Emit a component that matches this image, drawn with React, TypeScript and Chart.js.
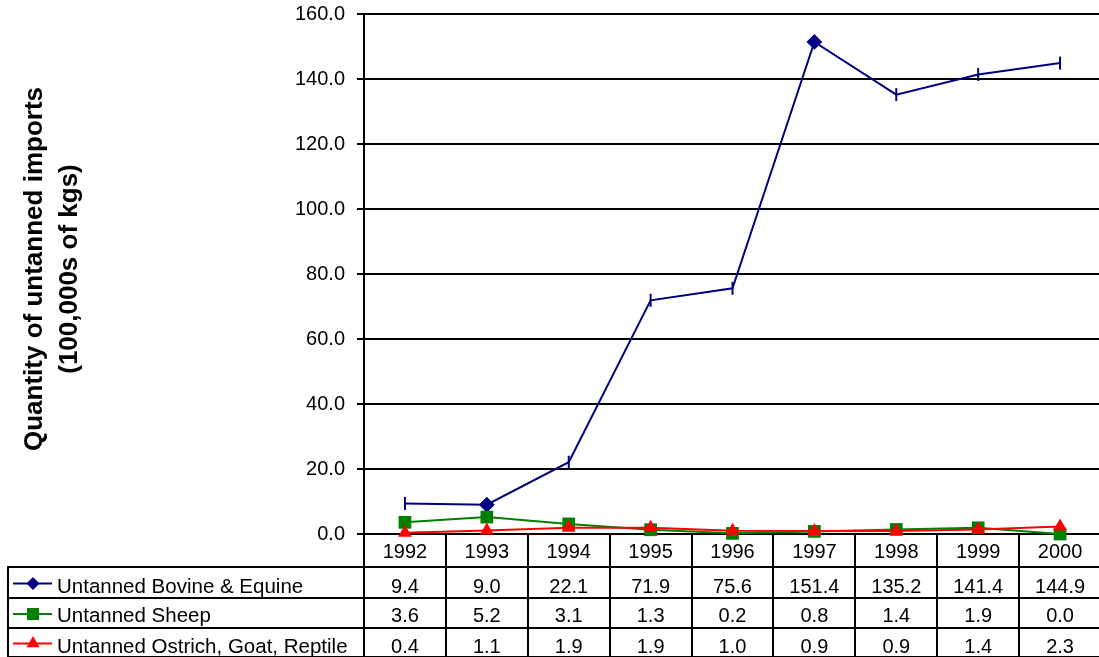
import { useEffect, useRef } from "react";
import { Chart, registerables } from "chart.js";

Chart.register(...registerables);

const years = ["1992", "1993", "1994", "1995", "1996", "1997", "1998", "1999", "2000"];
const bovine = [9.4, 9.0, 22.1, 71.9, 75.6, 151.4, 135.2, 141.4, 144.9];
const sheep = [3.6, 5.2, 3.1, 1.3, 0.2, 0.8, 1.4, 1.9, 0.0];
const ostrich = [0.4, 1.1, 1.9, 1.9, 1.0, 0.9, 0.9, 1.4, 2.3];
const seriesNames = [
  "Untanned Bovine & Equine",
  "Untanned Sheep",
  "Untanned Ostrich, Goat, Reptile",
];
const yTitleLines = ["Quantity of untanned imports", "(100,000s of kgs)"];
const yMin = 0;
const yMax = 160;
const yStep = 20;

const NAVY = "#000080";
const GREEN = "#008000";
const RED = "#FF0000";
const FONT = "'Liberation Sans', Arial, sans-serif";

// Bovine series marker appearance per point (diamond where Excel shows one, dash elsewhere)
const bovineMarkerStyle = ["line", "rectRot", "line", "line", "line", "rectRot", "line", "line", "line"];
const bovineMarkerRotation = bovineMarkerStyle.map((s) => (s === "line" ? 90 : 0));

function drawMarker(ctx: CanvasRenderingContext2D, kind: string, x: number, y: number, color: string) {
  ctx.save();
  ctx.fillStyle = color;
  ctx.strokeStyle = color;
  ctx.beginPath();
  if (kind === "diamond") {
    const r = 6.5;
    ctx.moveTo(x, y - r);
    ctx.lineTo(x + r, y);
    ctx.lineTo(x, y + r);
    ctx.lineTo(x - r, y);
    ctx.closePath();
  } else if (kind === "square") {
    const s = 6;
    ctx.rect(x - s, y - s, 2 * s, 2 * s);
  } else {
    const r = 7.5;
    ctx.moveTo(x, y - r);
    ctx.lineTo(x + r * 0.866, y + r / 2);
    ctx.lineTo(x - r * 0.866, y + r / 2);
    ctx.closePath();
  }
  ctx.fill();
  ctx.restore();
}

const tablePlugin = {
  id: "dataTable",
  afterDraw(chart: any) {
    const ctx: CanvasRenderingContext2D = chart.ctx;
    const { left, right, bottom } = chart.chartArea;
    const xs = chart.scales.x;
    const colW = (right - left) / years.length;
    const rowLines = [567, 598, 628, 657];
    const tableLeft = 8;
    const H = chart.height;

    ctx.save();
    ctx.strokeStyle = "#000";
    ctx.lineWidth = 2;
    for (let i = 0; i <= years.length; i++) {
      const x = Math.round(left + i * colW);
      ctx.beginPath();
      ctx.moveTo(x, bottom);
      ctx.lineTo(x, H);
      ctx.stroke();
    }
    for (const y of rowLines) {
      ctx.beginPath();
      ctx.moveTo(tableLeft - 1, y);
      ctx.lineTo(right, y);
      ctx.stroke();
    }
    ctx.beginPath();
    ctx.moveTo(tableLeft, rowLines[0]);
    ctx.lineTo(tableLeft, H);
    ctx.stroke();

    ctx.fillStyle = "#000";
    ctx.font = `20px ${FONT}`;
    ctx.textAlign = "center";
    ctx.textBaseline = "alphabetic";
    const baselines = [558, 593, 622, 653];
    years.forEach((yr, i) => {
      ctx.fillText(yr, xs.getPixelForValue(i), baselines[0]);
    });
    const rows = [bovine, sheep, ostrich];
    const colors = [NAVY, GREEN, RED];
    const kinds = ["diamond", "square", "triangle"];
    rows.forEach((vals, r) => {
      ctx.fillStyle = "#000";
      ctx.textAlign = "center";
      ctx.font = `20px ${FONT}`;
      vals.forEach((v, i) => {
        ctx.fillText(v.toFixed(1), xs.getPixelForValue(i), baselines[r + 1]);
      });
      const cy = (rowLines[r] + rowLines[r + 1]) / 2 + 1;
      ctx.strokeStyle = colors[r];
      ctx.lineWidth = 2;
      ctx.beginPath();
      ctx.moveTo(13, cy);
      ctx.lineTo(52, cy);
      ctx.stroke();
      drawMarker(ctx, kinds[r], 33, cy, colors[r]);
      ctx.fillStyle = "#000";
      ctx.textAlign = "left";
      ctx.font = `20.5px ${FONT}`;
      ctx.fillText(seriesNames[r], 57, baselines[r + 1]);
    });

    ctx.font = `bold 26px ${FONT}`;
    ctx.textAlign = "center";
    ctx.textBaseline = "middle";
    const cy = 269;
    [35, 70].forEach((x, i) => {
      ctx.save();
      ctx.translate(x, cy);
      ctx.rotate(-Math.PI / 2);
      ctx.fillText(yTitleLines[i], 0, 0);
      ctx.restore();
    });
    ctx.restore();
  },
};

export default function App() {
  const ref = useRef<HTMLCanvasElement | null>(null);
  useEffect(() => {
    if (!ref.current) return;
    const chart = new Chart(ref.current, {
      type: "line",
      data: {
        labels: years,
        datasets: [
          {
            label: seriesNames[0],
            data: bovine,
            borderColor: NAVY,
            backgroundColor: NAVY,
            borderWidth: 2,
            pointStyle: bovineMarkerStyle as any,
            rotation: bovineMarkerRotation as any,
            pointRadius: 6.5,
            pointBorderWidth: 2,
            pointBackgroundColor: NAVY,
            pointBorderColor: NAVY,
            order: 3,
            clip: false as any,
            tension: 0,
          },
          {
            label: seriesNames[1],
            data: sheep,
            borderColor: GREEN,
            backgroundColor: GREEN,
            borderWidth: 2,
            pointStyle: "rect",
            pointRadius: 9,
            pointBorderWidth: 0,
            pointBackgroundColor: GREEN,
            order: 2,
            clip: false as any,
            tension: 0,
          },
          {
            label: seriesNames[2],
            data: ostrich,
            borderColor: RED,
            backgroundColor: RED,
            borderWidth: 2,
            pointStyle: "triangle",
            pointRadius: 8,
            pointBorderWidth: 0,
            pointBackgroundColor: RED,
            order: 1,
            clip: false as any,
            tension: 0,
          },
        ],
      },
      options: {
        responsive: false,
        animation: false,
        layout: { padding: { top: 14, bottom: 123, left: 0, right: 1 } },
        plugins: { legend: { display: false }, tooltip: { enabled: false } },
        scales: {
          x: { display: false, offset: true },
          y: {
            min: yMin,
            max: yMax,
            afterFit: (s: any) => {
              s.width = 364;
              s.paddingTop = 0;
              s.paddingBottom = 0;
            },
            ticks: {
              stepSize: yStep,
              color: "#000",
              padding: 12,
              font: { family: FONT, size: 20 },
              callback: (v: any) => Number(v).toFixed(1),
            },
            grid: { color: "#000", lineWidth: 2, tickLength: 7, drawTicks: true, tickColor: "#000" },
            border: { color: "#000", width: 2 },
          },
        },
      },
      plugins: [tablePlugin],
    });
    return () => chart.destroy();
  }, []);

  return (
    <div style={{ position: "absolute", left: 0, top: 0, width: 1099, height: 657, overflow: "hidden", background: "#fff" }}>
      <canvas ref={ref} width={1110} height={657} style={{ display: "block" }} />
    </div>
  );
}
